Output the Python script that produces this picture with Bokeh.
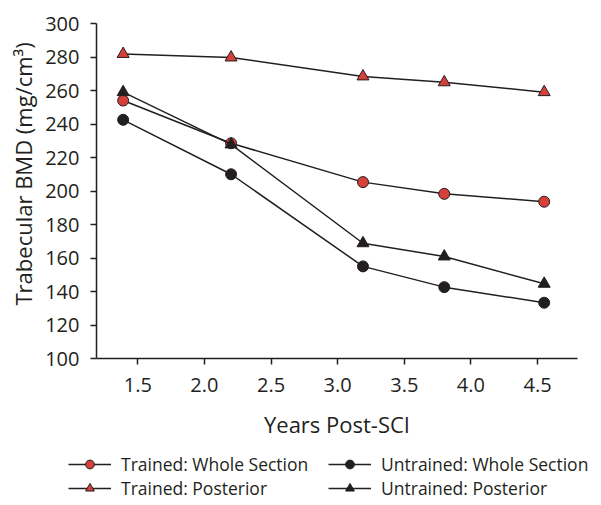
from bokeh.plotting import figure
from bokeh.layouts import column
from bokeh.models import FixedTicker, Legend, LegendItem, Range1d, Title
from bokeh.embed import file_html
from bokeh.resources import INLINE

years = [1.39, 2.2, 3.19, 3.8, 4.55]
trained_whole = [254, 228.5, 205.3, 198.3, 193.6]
trained_post = [281.8, 279.7, 268.4, 264.9, 259]
untrained_whole = [242.5, 210, 155, 142.6, 133.3]
untrained_post = [259, 227.8, 168.8, 160.9, 144.6]
x_ticks = [1.5, 2.0, 2.5, 3.0, 3.5, 4.0, 4.5]
y_ticks = [100, 120, 140, 160, 180, 200, 220, 240, 260, 280, 300]

RED = "#d6403a"
INK = "#231f20"
FONT = "Open Sans"

p = figure(width=585, height=452, output_backend="svg", toolbar_location=None,
           x_range=Range1d(1.19, 4.8), y_range=Range1d(100, 300),
           min_border_left=96, min_border_top=23, min_border_right=8,
           min_border_bottom=94)
p.frame_align = False
p.outline_line_color = None
p.xgrid.visible = False
p.ygrid.visible = False

# legend-only strip below the chart (its proxy glyphs fall outside its ranges)
lg = figure(width=598, height=48, output_backend="svg", toolbar_location=None,
            x_range=Range1d(-2, -1), y_range=Range1d(-2, -1),
            min_border=0, x_axis_type=None, y_axis_type=None)
lg.frame_align = False
lg.outline_line_color = None
lg.xgrid.visible = False
lg.ygrid.visible = False

series = [
    ("Trained: Whole Section", trained_whole, "circle", RED),
    ("Trained: Posterior", trained_post, "triangle", RED),
    ("Untrained: Whole Section", untrained_whole, "circle", INK),
    ("Untrained: Posterior", untrained_post, "triangle", INK),
]
items = []
for label, ys, marker, color in series:
    size = 11 if marker == "circle" else 12
    p.line(years, ys, line_color=INK, line_width=1.5)
    p.scatter(years, ys, marker=marker, size=size,
              fill_color=color, line_color=INK, line_width=1)
    ln = lg.line(years, ys, line_color=INK, line_width=1.5)
    sc = lg.scatter(years, ys, marker=marker, size=size - 2,
                    fill_color=color, line_color=INK, line_width=1)
    items.append(LegendItem(label=label, renderers=[ln, sc]))

for ax in (p.xaxis[0], p.yaxis[0]):
    ax.axis_line_color = INK
    ax.axis_line_width = 1.5
    ax.major_tick_line_color = INK
    ax.major_tick_line_width = 1.5
    ax.major_tick_in = 0
    ax.major_tick_out = 6
    ax.minor_tick_line_color = None
    ax.major_label_text_font = FONT
    ax.major_label_text_font_size = "20px"
    ax.major_label_text_color = INK
    ax.axis_label_text_font = FONT
    ax.axis_label_text_font_size = "22px"
    ax.axis_label_text_font_style = "normal"
    ax.axis_label_text_color = INK

p.xaxis.ticker = FixedTicker(ticks=x_ticks)
p.yaxis.ticker = FixedTicker(ticks=y_ticks)
p.xaxis.major_label_overrides = {t: f"{t:.1f}" for t in x_ticks}
p.xaxis.axis_label = "Years Post-SCI"
p.xaxis.major_label_standoff = 13
p.yaxis.major_label_standoff = 11
p.xaxis.axis_label_standoff = 14

ytitle = Title(text="Trabecular BMD (mg/cm³)", align="left", offset=53,
               standoff=9, text_font=FONT, text_font_size="22px",
               text_font_style="normal", text_color=INK)
p.add_layout(ytitle, "left")


def make_legend(its, x):
    return Legend(items=its, location=(x, 0), orientation="vertical",
                  glyph_width=43, glyph_height=22, label_height=22,
                  label_standoff=10, spacing=0, padding=0, margin=0,
                  border_line_color=None, background_fill_alpha=0,
                  label_text_font=FONT, label_text_font_size="17.5px",
                  label_text_color=INK)


lg.add_layout(make_legend(items[:2], 68), "center")
lg.add_layout(make_legend(items[2:], 328), "center")

open("out.html", "w").write(file_html(column(p, lg, spacing=0), INLINE))
